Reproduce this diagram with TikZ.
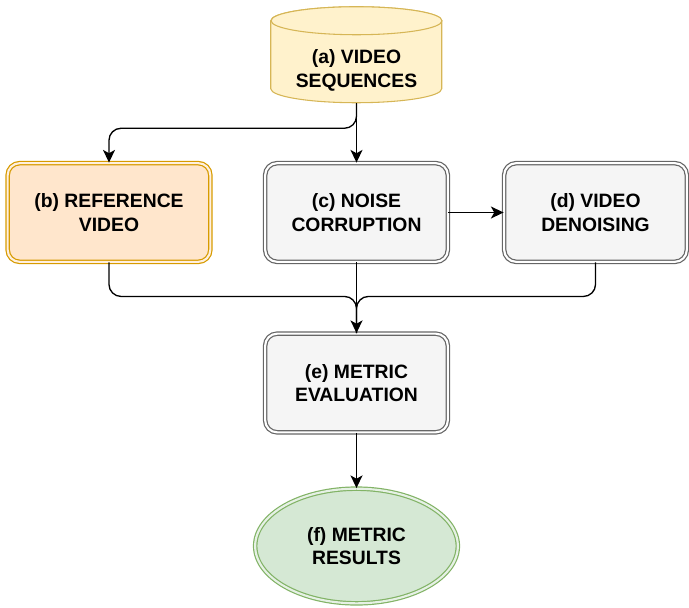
\documentclass[tikz,border=0pt]{standalone}
\usepackage{fontspec}
\setmainfont{Liberation Sans}
\usepackage{xcolor}
\usepackage{tikz}
\usetikzlibrary{arrows.meta,positioning,calc,shapes.geometric}

\definecolor{seqfill}{HTML}{FFF2CC}
\definecolor{seqdraw}{HTML}{D6B656}
\definecolor{reffill}{HTML}{FFE6CC}
\definecolor{refdraw}{HTML}{D79B00}
\definecolor{procfill}{HTML}{F5F5F5}
\definecolor{procdraw}{HTML}{666666}
\definecolor{resfill}{HTML}{D5E8D4}
\definecolor{resdraw}{HTML}{82B366}

\begin{document}
\begin{tikzpicture}[
 x=0.75pt,y=-0.75pt,font=\fontsize{14.5}{17.5}\selectfont\bfseries,
 stage/.style={rectangle,rounded corners=9pt,align=center,
               minimum width=137pt,minimum height=74pt,inner sep=2pt,
               fill=procfill,draw=procdraw,line width=0.9pt,
               double=white,double distance=1.6pt},
 refstage/.style={stage,fill=reffill,draw=refdraw,double=reffill!60!white,
                  minimum width=152pt},
 result/.style={ellipse,align=center,minimum width=152pt,minimum height=86pt,
                fill=resfill,draw=resdraw,line width=0.9pt,
                double=resfill!60!white,double distance=1.6pt},
 drum/.style={draw=seqdraw,fill=seqfill,line width=0.8pt},
 flow/.style={-{Stealth[length=9.5pt,width=9pt,inset=2.5pt]},line width=1pt},
 merge/.style={line width=1pt,rounded corners=9pt}]
\useasboundingbox (0,0) rectangle (689,607);
% database drum
\node[minimum width=128.25pt,minimum height=72pt,inner sep=0pt] (seq) at (356.5,55) {};
\draw[drum] (seq.north west) ++(0,14) -- ++(0,68)
 arc[start angle=180,end angle=360,x radius=64.125pt,y radius=10.5pt]
 -- ++(0,-68) arc[start angle=0,end angle=180,x radius=64.125pt,y radius=10.5pt] -- cycle;
\draw[drum] (seq.north) ++(0,14) ellipse[x radius=64.125pt,y radius=10.5pt];
\node[align=center] (seqtext) at (356.5,70.5) {(a) VIDEO\\SEQUENCES};
\node[refstage] (ref) at (109,212.5) {(b) REFERENCE\\VIDEO};
\node[stage] (noise) at (356.5,212.5) {(c) NOISE\\CORRUPTION};
\node[stage] (denoise) at (595.5,212.5) {(d) VIDEO\\DENOISING};
\node[stage] (metric) at (356.5,383) {(e) METRIC\\EVALUATION};
\node[result] (res) at (356.5,546) {(f) METRIC\\RESULTS};
\draw[flow] (seq.south) -- (noise.north);
\draw[flow,rounded corners=9pt] (seq.south) -- ++(0,25) -| (ref.north);
\draw[flow] (noise) -- (denoise);
\draw[merge] (ref.south) -- ++(0,34) -| (metric.north);
\draw[merge] (denoise.south) -- ++(0,34) -| (metric.north);
\draw[flow] (noise.south) -- (metric.north);
\draw[flow] (metric) -- (res);
\end{tikzpicture}
\end{document}
